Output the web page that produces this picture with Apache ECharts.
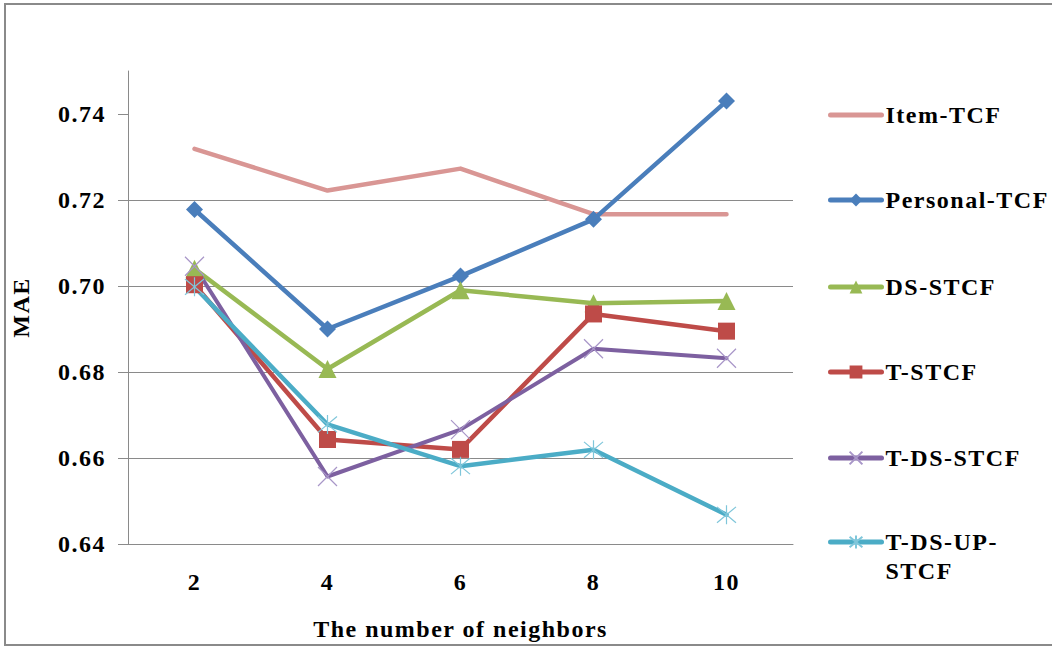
<!DOCTYPE html>
<html>
<head>
<meta charset="utf-8">
<script src="https://cdn.jsdelivr.net/npm/echarts@6/dist/echarts.min.js"></script>
<style>
  html, body { margin: 0; padding: 0; background: #fff; }
  #chart { width: 1052px; height: 646px; }
  /* the chart's bold serif labels are set a little wide */
  #chart text { letter-spacing: 1.5px; }
</style>
</head>
<body>
<div id="chart"></div>
<script>
// Number of neighbors on the x axis
var neighbors = ['2', '4', '6', '8', '10'];

// MAE per method
var itemTCF      = [0.7319, 0.7222, 0.7273, 0.7167, 0.7167];
var personalTCF  = [0.7178, 0.6900, 0.7023, 0.7155, 0.7430];
var dsSTCF       = [0.7040, 0.6807, 0.6990, 0.6960, 0.6965];
var tSTCF        = [0.7003, 0.6643, 0.6620, 0.6935, 0.6895];
var tdsSTCF      = [0.7046, 0.6557, 0.6666, 0.6854, 0.6832];
var tdsupSTCF    = [0.6998, 0.6678, 0.6581, 0.6619, 0.6468];

var yTicks = [0.64, 0.66, 0.68, 0.70, 0.72, 0.74];

var seriesNames = ['Item-TCF', 'Personal-TCF', 'DS-STCF', 'T-STCF', 'T-DS-STCF', 'T-DS-UP-STCF'];

var FONT = "'Liberation Serif', 'Times New Roman', serif";

var crossPath = 'path://M0,0L10,10M10,0L0,10';
var starPath  = 'path://M0,0L10,10M10,0L0,10M5,-1L5,11';

var chart = echarts.init(document.getElementById('chart'), null, { renderer: 'svg' });

function legendFor(item, top, formatter) {
  var l = {
    data: [item],
    orient: 'vertical',
    left: 828,
    top: top,
    padding: 0,
    itemWidth: 51,
    itemHeight: 16,
    itemGap: 0,
    selectedMode: false,
    lineStyle: { width: 5, cap: 'round' },
    textStyle: {
      fontFamily: FONT, fontWeight: 'bold', fontSize: 24, lineHeight: 29,
      color: '#000', padding: [0, 0, 0, -1]
    }
  };
  if (formatter) l.formatter = formatter;
  return l;
}

var option = {
  backgroundColor: '#fff',
  animation: false,
  grid: { left: 128, right: 259, top: 71, bottom: 101, containLabel: false },
  legend: [
    legendFor({ name: seriesNames[0], itemStyle: { color: 'rgba(0,0,0,0)', borderColor: 'rgba(0,0,0,0)', borderWidth: 0 } }, 100.5),
    legendFor(seriesNames[1], 185.5),
    legendFor(seriesNames[2], 272.5),
    legendFor(seriesNames[3], 357.5),
    legendFor(seriesNames[4], 443.5),
    legendFor(seriesNames[5], 498.5, function () { return ' \nT-DS-UP-\nSTCF'; })
  ],
  xAxis: {
    type: 'category',
    data: neighbors,
    boundaryGap: true,
    axisLine: { lineStyle: { color: '#8a8a8a', width: 1 } },
    axisTick: { show: false },
    axisLabel: { fontFamily: FONT, fontWeight: 'bold', fontSize: 24, color: '#000', margin: 26 },
    name: 'The number of neighbors',
    nameLocation: 'middle',
    nameGap: 73,
    nameTextStyle: { fontFamily: FONT, fontWeight: 'bold', fontSize: 24, color: '#000' }
  },
  yAxis: {
    type: 'value',
    min: 0.64,
    max: 0.75,
    interval: 0.02,
    axisLine: { show: true, lineStyle: { color: '#8a8a8a', width: 1 } },
    axisTick: { show: true, inside: false, length: 10, customValues: yTicks, lineStyle: { color: '#8a8a8a' } },
    axisLabel: {
      customValues: yTicks,
      fontFamily: FONT, fontWeight: 'bold', fontSize: 24, color: '#000', margin: 22,
      formatter: function (v) { return v.toFixed(2); }
    },
    splitLine: { show: true, showMaxLine: false, lineStyle: { color: '#8a8a8a', width: 1 } },
    name: 'MAE',
    nameLocation: 'middle',
    nameGap: 95,
    nameRotate: 90,
    nameTextStyle: { fontFamily: FONT, fontWeight: 'bold', fontSize: 24, color: '#000' }
  },
  series: [
    {
      name: seriesNames[0], type: 'line', data: itemTCF,
      symbol: 'none', showSymbol: false,
      itemStyle: { color: '#D99694' },
      lineStyle: { color: '#D99694', width: 4.5, cap: 'round', join: 'round' }
    },
    {
      name: seriesNames[1], type: 'line', data: personalTCF,
      symbol: 'diamond', symbolSize: 17,
      itemStyle: { color: '#4A7EBB' },
      lineStyle: { color: '#4A7EBB', width: 4.5, cap: 'round', join: 'round' }
    },
    {
      name: seriesNames[2], type: 'line', data: dsSTCF,
      symbol: 'triangle', symbolSize: 18,
      itemStyle: { color: '#98B954' },
      lineStyle: { color: '#98B954', width: 4.5, cap: 'round', join: 'round' }
    },
    {
      name: seriesNames[3], type: 'line', data: tSTCF,
      symbol: 'rect', symbolSize: 17,
      itemStyle: { color: '#BE4B48' },
      lineStyle: { color: '#BE4B48', width: 4.5, cap: 'round', join: 'round' }
    },
    {
      name: seriesNames[4], type: 'line', data: tdsSTCF,
      symbol: crossPath, symbolSize: 19,
      itemStyle: { color: 'rgba(0,0,0,0)', borderColor: '#A896C8', borderWidth: 1.2 },
      lineStyle: { color: '#7D60A0', width: 4, cap: 'round', join: 'round' }
    },
    {
      name: seriesNames[5], type: 'line', data: tdsupSTCF,
      symbol: starPath, symbolSize: 19,
      itemStyle: { color: 'rgba(0,0,0,0)', borderColor: '#7FC6DA', borderWidth: 1.2 },
      lineStyle: { color: '#4BACC6', width: 4.5, cap: 'round', join: 'round' }
    }
  ],
  graphic: [
    {
      type: 'rect',
      shape: { x: 5, y: 4, width: 1100, height: 641 },
      style: { fill: null, stroke: '#8a8a8a', lineWidth: 2 },
      silent: true,
      z: 100
    }
  ]
};

chart.setOption(option);
</script>
</body>
</html>
